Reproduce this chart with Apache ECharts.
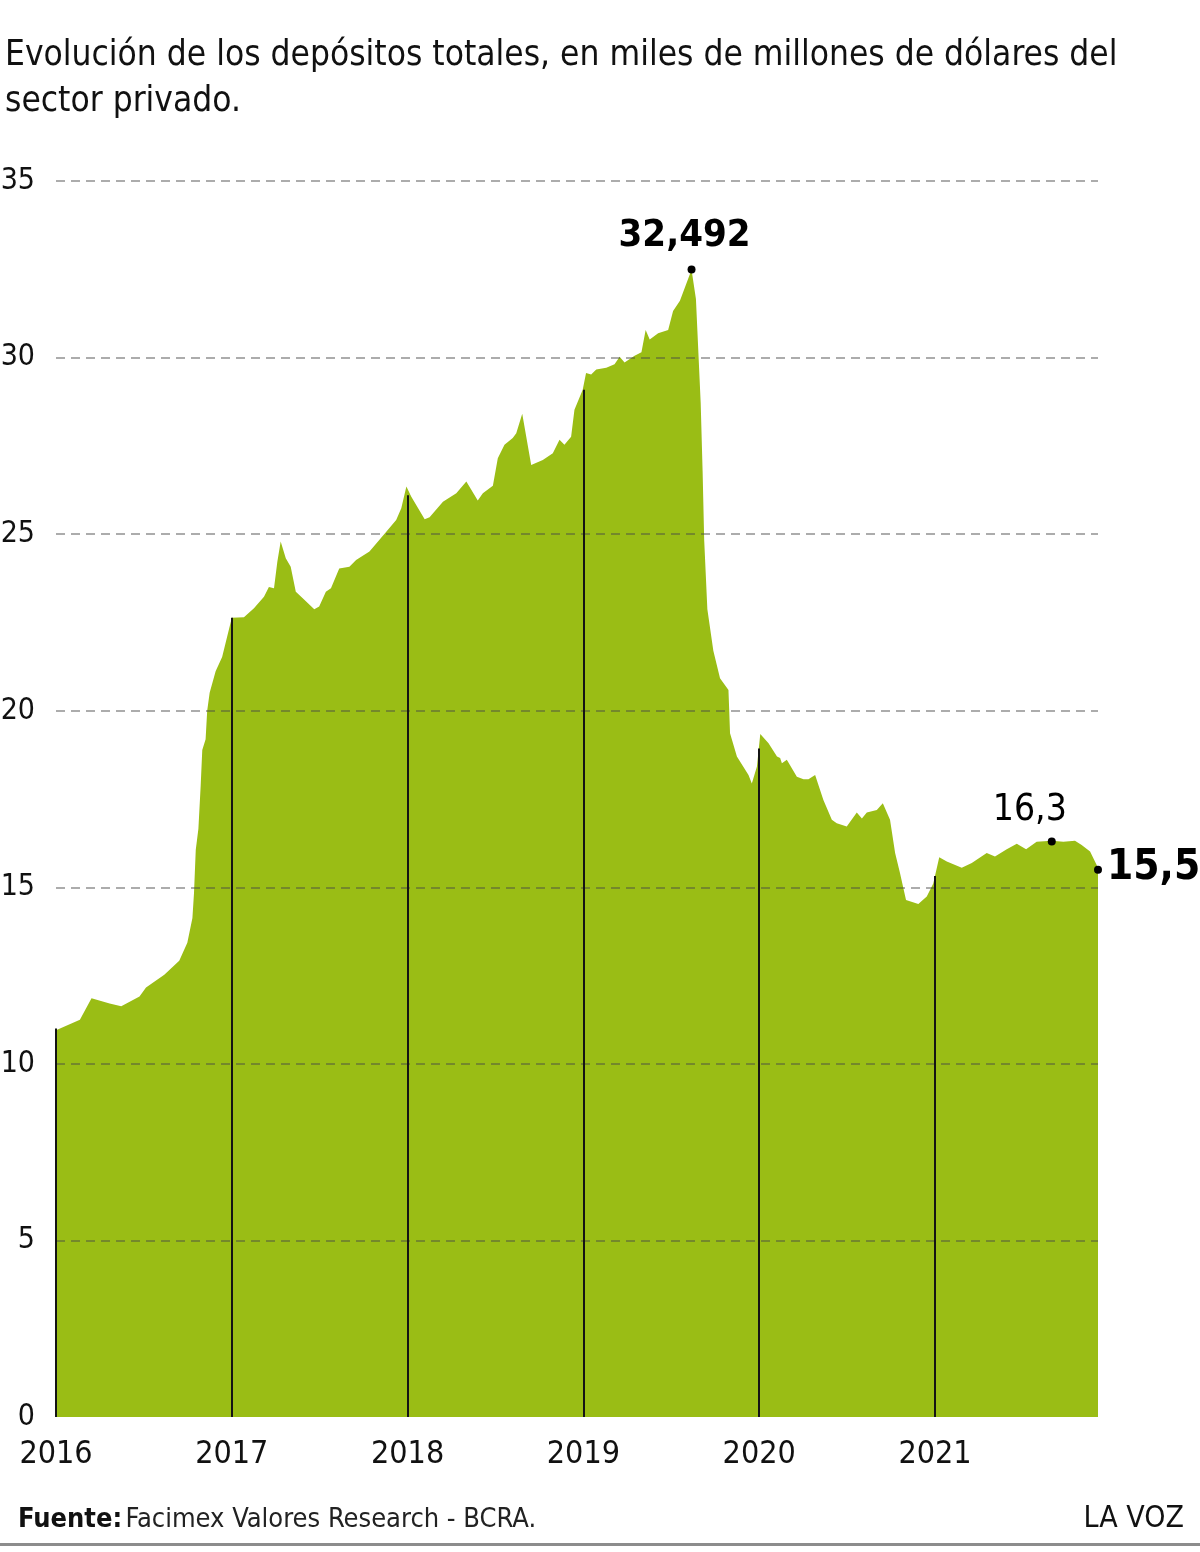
<!DOCTYPE html>
<html>
<head>
<meta charset="utf-8">
<script src="https://cdn.jsdelivr.net/npm/echarts@6/dist/echarts.min.js"></script>
<style>
  html, body { margin: 0; padding: 0; background: #fff; }
  #chart { width: 1200px; height: 1552px; }
</style>
</head>
<body>
<div id="chart"></div>
<script>
// fecha como año decimal
var fechas = [
  2016.000, 2016.136, 2016.202, 2016.305, 2016.371, 2016.475, 2016.512, 2016.616, 2016.701, 2016.747,
  2016.776, 2016.785, 2016.795, 2016.810, 2016.823, 2016.832, 2016.851, 2016.860, 2016.874, 2016.908,
  2016.945, 2017.000, 2017.069, 2017.126, 2017.183, 2017.211, 2017.240, 2017.259, 2017.278, 2017.307,
  2017.335, 2017.364, 2017.402, 2017.469, 2017.497, 2017.535, 2017.564, 2017.611, 2017.669, 2017.707,
  2017.783, 2017.840, 2017.887, 2017.935, 2017.964, 2017.993, 2018.021, 2018.097, 2018.125, 2018.201,
  2018.277, 2018.334, 2018.399, 2018.428, 2018.485, 2018.513, 2018.551, 2018.598, 2018.618, 2018.652,
  2018.703, 2018.769, 2018.826, 2018.864, 2018.892, 2018.930, 2018.949, 2018.996, 2019.015, 2019.044,
  2019.073, 2019.130, 2019.177, 2019.206, 2019.234, 2019.291, 2019.330, 2019.354, 2019.377, 2019.425,
  2019.482, 2019.510, 2019.549, 2019.615, 2019.640, 2019.667, 2019.678, 2019.687, 2019.705, 2019.739,
  2019.777, 2019.825, 2019.834, 2019.873, 2019.939, 2019.958, 2019.987, 2020.006, 2020.053, 2020.101,
  2020.119, 2020.129, 2020.157, 2020.214, 2020.252, 2020.280, 2020.318, 2020.365, 2020.413, 2020.441,
  2020.498, 2020.555, 2020.584, 2020.612, 2020.669, 2020.703, 2020.744, 2020.773, 2020.801, 2020.835,
  2020.905, 2020.953, 2020.990, 2021.024, 2021.067, 2021.152, 2021.209, 2021.294, 2021.341, 2021.408,
  2021.465, 2021.518, 2021.578, 2021.664, 2021.730, 2021.796, 2021.834, 2021.882, 2021.927
];
var depositos = [
  10.95, 11.25, 11.86, 11.71, 11.63, 11.91, 12.16, 12.52, 12.92, 13.43,
  14.13, 14.84, 16.06, 16.66, 17.88, 18.89, 19.19, 20.00, 20.51, 21.12,
  21.52, 22.63, 22.65, 22.90, 23.23, 23.50, 23.47, 24.22, 24.79, 24.32,
  24.08, 23.37, 23.19, 22.87, 22.95, 23.37, 23.47, 24.03, 24.08, 24.27,
  24.51, 24.84, 25.12, 25.40, 25.73, 26.35, 26.06, 25.42, 25.48, 25.92,
  26.16, 26.49, 25.95, 26.16, 26.37, 27.15, 27.53, 27.72, 27.86, 28.41,
  26.96, 27.10, 27.29, 27.67, 27.53, 27.76, 28.52, 29.09, 29.56, 29.52,
  29.66, 29.71, 29.81, 30.02, 29.86, 30.05, 30.15, 30.78, 30.51, 30.69,
  30.78, 31.32, 31.61, 32.49, 31.66, 28.73, 26.78, 24.83, 22.87, 21.70,
  20.92, 20.59, 19.36, 18.70, 18.18, 17.94, 18.42, 19.34, 19.08, 18.70,
  18.66, 18.51, 18.61, 18.13, 18.06, 18.06, 18.18, 17.47, 16.91, 16.81,
  16.72, 17.12, 16.95, 17.12, 17.19, 17.38, 16.91, 15.97, 15.40, 14.64,
  14.53, 14.74, 15.11, 15.85, 15.73, 15.55, 15.69, 15.97, 15.87, 16.08,
  16.23, 16.08, 16.29, 16.32, 16.29, 16.32, 16.20, 16.01, 15.55
];

// líneas verticales de inicio de año
var anios = [2016, 2017, 2018, 2019, 2020, 2021];
var topesAnio = [11.0, 22.63, 26.1, 29.09, 18.93, 15.32];

// puntos destacados
var destacadosX = [2019.615, 2021.664, 2021.927];
var destacadosY = [32.492, 16.3, 15.5];
var destacadosTexto = ['32,492', '16,3', '15,5'];

var ticksY = [0, 5, 10, 15, 20, 25, 30, 35];

var FONT = '"Liberation Sans Narrow", "DejaVu Sans Condensed", "Roboto", sans-serif';
var VERDE = '#9abd15';

var chart = echarts.init(document.getElementById('chart'), null, { renderer: 'canvas' });

var serieArea = fechas.map(function (f, i) { return [f, depositos[i]]; });

var lineasAnio = anios.map(function (a, i) {
  return [{ coord: [a, 0] }, { coord: [a, topesAnio[i]] }];
});

// estilo de cada etiqueta destacada
var estilosEtiqueta = [
  { position: 'top', distance: 10, offset: [-7, 0], fontSize: 38, fontWeight: 'bold' },
  { position: 'top', distance: 8, offset: [-22, 0], fontSize: 37, fontWeight: 'normal' },
  { position: 'right', distance: 5, offset: [0, -2], fontSize: 42, fontWeight: 'bold' }
];
var puntos = destacadosX.map(function (x, i) {
  var e = estilosEtiqueta[i];
  return {
    value: [x, destacadosY[i]],
    label: {
      show: true,
      formatter: destacadosTexto[i],
      position: e.position,
      distance: e.distance,
      offset: e.offset,
      fontSize: e.fontSize,
      fontWeight: e.fontWeight,
      fontFamily: FONT,
      color: '#000'
    }
  };
});

var option = {
  backgroundColor: '#ffffff',
  animation: false,
  title: {
    text: 'Evolución de los depósitos totales, en miles de millones de dólares del\nsector privado.',
    left: 0,
    top: 28,
    textStyle: {
      fontFamily: FONT,
      fontSize: 35,
      fontWeight: 'normal',
      color: '#111',
      lineHeight: 46
    }
  },
  grid: {
    left: 56,
    right: 102,
    top: 181,
    bottom: 135,
    outerBoundsMode: 'none',
    containLabel: false
  },
  xAxis: {
    type: 'value',
    min: 2016,
    max: 2021.927,
    interval: 1,
    axisLine: { show: false },
    axisTick: { show: false },
    splitLine: { show: false },
    axisLabel: {
      showMaxLabel: false,
      margin: 22,
      fontFamily: FONT,
      fontSize: 32,
      color: '#111',
      formatter: function (v) { return Number.isInteger(v) ? String(v) : ''; }
    }
  },
  yAxis: {
    type: 'value',
    min: ticksY[0],
    max: ticksY[ticksY.length - 1],
    interval: 5,
    z: 3,
    axisLine: { show: false },
    axisTick: { show: false },
    axisLabel: {
      margin: 21,
      fontFamily: FONT,
      fontSize: 30,
      color: '#111'
    },
    splitLine: {
      show: true,
      showMinLine: false,
      lineStyle: {
        color: 'rgba(70,70,70,0.45)',
        width: 2,
        type: [9, 6]
      }
    }
  },
  series: [
    {
      name: 'Depósitos',
      type: 'line',
      data: serieArea,
      symbol: 'none',
      z: 2,
      lineStyle: { width: 0 },
      areaStyle: { color: VERDE, opacity: 1 }
    },
    {
      name: 'Años',
      type: 'line',
      data: [],
      z: 4,
      markLine: {
        silent: true,
        symbol: 'none',
        label: { show: false },
        lineStyle: { color: '#141414', width: 2, type: 'solid' },
        data: lineasAnio
      }
    },
    {
      name: 'Destacados',
      type: 'scatter',
      z: 5,
      symbolSize: 8,
      itemStyle: { color: '#000', opacity: 1 },
      data: puntos
    }
  ],
  graphic: [
    {
      type: 'text',
      left: 18,
      top: 1506,
      style: {
        text: '{b|Fuente:} {r|Facimex Valores Research - BCRA.}',
        rich: {
          b: { fontFamily: FONT, fontSize: 27, fontWeight: 'bold', fill: '#111' },
          r: { fontFamily: FONT, fontSize: 27, fill: '#222' }
        }
      }
    },
    {
      type: 'text',
      right: 16,
      top: 1504,
      style: {
        text: 'LA VOZ',
        fontFamily: FONT,
        fontSize: 30,
        fill: '#111'
      }
    },
    {
      type: 'rect',
      left: 0,
      top: 1543,
      shape: { width: 1200, height: 3 },
      style: { fill: '#8c8c8c' }
    }
  ]
};

chart.setOption(option);
</script>
</body>
</html>
